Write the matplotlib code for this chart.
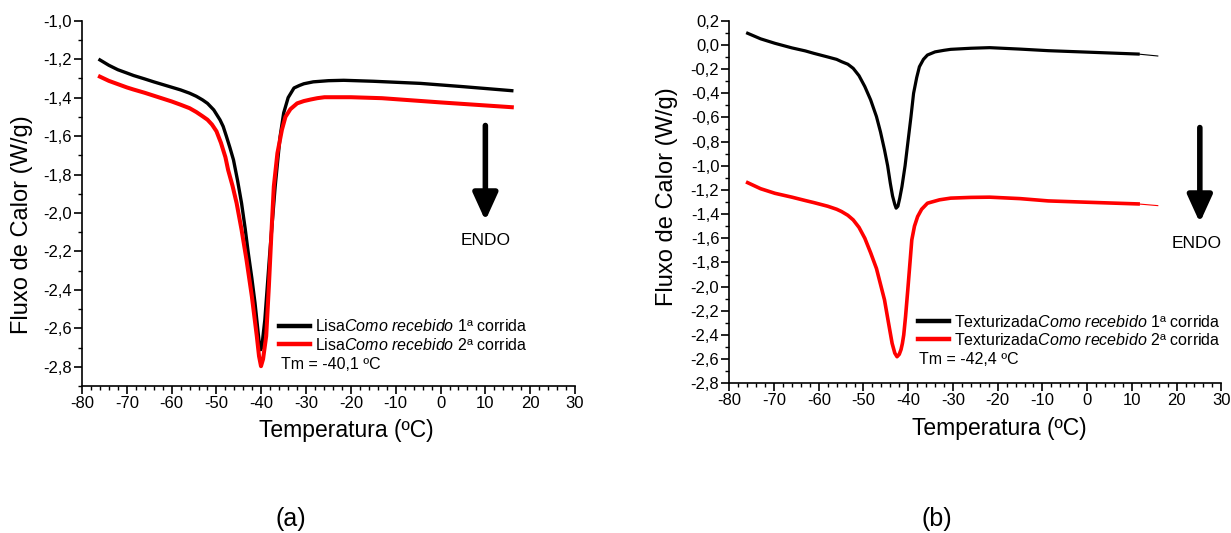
import matplotlib
matplotlib.use("Agg")
import matplotlib.pyplot as plt
from matplotlib.ticker import MultipleLocator, FuncFormatter

plt.rcParams['font.family'] = ['Liberation Sans', 'DejaVu Sans']
plt.rcParams['mathtext.fontset'] = 'custom'
plt.rcParams['mathtext.rm'] = 'Liberation Sans'
plt.rcParams['mathtext.it'] = 'Liberation Sans:italic'

# ---------------- data (a) Lisa ----------------
lisa_run1_T = [-76.0, -74.0, -72.0, -70.0, -68.5, -66.0, -64.0, -62.0, -60.0, -58.0, -56.0,
               -54.5, -53.1, -52.0, -50.6, -49.2, -48.5, -47.8, -47.0, -46.2, -45.3, -44.4,
               -43.6, -42.9, -42.1, -41.4, -40.8, -40.4, -40.1, -39.8, -39.2, -38.1, -36.9,
               -36.3, -35.8, -35.0, -34.0, -32.7, -31.5, -30.5, -28.4, -25.0, -21.6, -15.0,
               -4.5, 5.0, 15.9]
lisa_run1_Q = [-1.204, -1.232, -1.255, -1.272, -1.285, -1.303, -1.318, -1.332, -1.346, -1.36, -1.377,
               -1.393, -1.412, -1.43, -1.464, -1.516, -1.55, -1.60, -1.66, -1.724, -1.83, -1.949,
               -2.08, -2.208, -2.34, -2.468, -2.60, -2.69, -2.711, -2.68, -2.555, -2.208, -1.862,
               -1.72, -1.603, -1.48, -1.40, -1.35, -1.337, -1.328, -1.318, -1.312, -1.31, -1.315,
               -1.326, -1.343, -1.364]

lisa_run2_T = [-76.0, -74.0, -72.0, -70.0, -68.5, -66.0, -64.0, -62.0, -60.0, -58.0, -56.0,
               -54.5, -53.1, -52.0, -51.0, -50.0, -49.0, -48.0, -47.4, -46.4, -45.5, -44.4,
               -43.3, -42.1, -41.0, -40.5, -40.06, -39.6, -38.9, -38.3, -37.7, -37.2, -36.4,
               -35.4, -34.6, -33.5, -32.0, -30.5, -29.0, -27.5, -25.9, -20.0, -13.1, 0.0, 15.9]
lisa_run2_Q = [-1.291, -1.313, -1.33, -1.347, -1.358, -1.375, -1.39, -1.405, -1.42, -1.437, -1.455,
               -1.475, -1.497, -1.515, -1.54, -1.575, -1.635, -1.71, -1.776, -1.86, -1.949, -2.087,
               -2.243, -2.434, -2.64, -2.745, -2.797, -2.76, -2.64, -2.38, -2.087, -1.862, -1.689,
               -1.568, -1.50, -1.46, -1.43, -1.418, -1.41, -1.403, -1.398, -1.398, -1.403, -1.425,
               -1.45]

# ---------------- data (b) Texturizada ----------------
text_run1_T = [-75.9, -73.0, -69.8, -66.0, -63.0, -61.1, -58.0, -56.0, -54.9, -53.5, -52.3,
               -51.0, -49.7, -48.4, -47.1, -46.2, -45.3, -44.6, -44.0, -43.5, -43.0, -42.7,
               -42.3, -41.9, -41.4, -40.7, -40.1, -39.4, -38.8, -38.1, -37.5, -36.6, -35.7,
               -34.0, -32.0, -30.5, -26.0, -21.8, -15.0, -8.7, 0.0, 11.4, 15.8]
text_run1_Q = [0.096, 0.05, 0.013, -0.025, -0.05, -0.07, -0.10, -0.12, -0.139, -0.16, -0.194,
               -0.255, -0.345, -0.455, -0.593, -0.72, -0.869, -1.0, -1.145, -1.25, -1.32, -1.351,
               -1.335, -1.27, -1.173, -1.0, -0.815, -0.60, -0.401, -0.27, -0.181, -0.12, -0.084,
               -0.058, -0.045, -0.037, -0.028, -0.023, -0.035, -0.048, -0.06, -0.076, -0.092]

text_run2_T = [-75.9, -73.0, -69.8, -66.0, -63.0, -61.1, -58.0, -56.0, -54.9, -53.5, -52.3,
               -51.0, -49.7, -48.4, -47.1, -46.2, -45.3, -44.5, -43.6, -43.0, -42.5, -42.0,
               -41.6, -41.3, -41.0, -40.6, -40.1, -39.6, -39.2, -38.6, -37.9, -37.0, -35.7,
               -33.0, -30.5, -26.0, -21.8, -15.0, -8.7, 0.0, 11.4, 15.8]
text_run2_Q = [-1.14, -1.19, -1.228, -1.26, -1.288, -1.305, -1.335, -1.36, -1.379, -1.41, -1.448,
               -1.51, -1.60, -1.72, -1.85, -1.98, -2.11, -2.28, -2.469, -2.55, -2.58, -2.56,
               -2.52, -2.47, -2.40, -2.25, -2.03, -1.80, -1.614, -1.50, -1.421, -1.36, -1.31,
               -1.282, -1.268, -1.262, -1.26, -1.272, -1.291, -1.302, -1.316, -1.33]

lbl_a1 = r'Lisa$\it{Como\ recebido}$ 1ª corrida'
lbl_a2 = r'Lisa$\it{Como\ recebido}$ 2ª corrida'
lbl_b1 = r'Texturizada$\it{Como\ recebido}$ 1ª corrida'
lbl_b2 = r'Texturizada$\it{Como\ recebido}$ 2ª corrida'
tm_a = 'Tm = -40,1 ºC'
tm_b = 'Tm = -42,4 ºC'

W, H = 1231, 533
fig = plt.figure(figsize=(W / 100, H / 100), dpi=100)

ax1 = fig.add_axes([82 / W, 1 - 386 / H, 493 / W, (386 - 20.7) / H])
ax2 = fig.add_axes([729.3 / W, 1 - 383.3 / H, 492 / W, (383.3 - 20.7) / H])


def fmt_comma(v, p):
    if abs(v) < 1e-9:
        v = 0.0
    return f"{v:.1f}".replace('.', ',')


comma = FuncFormatter(fmt_comma)
intfmt = FuncFormatter(lambda v, p: f"{v:.0f}")


def style(ax, ylim, ymajor, xlabel_x):
    ax.set_xlim(-80, 30)
    ax.set_ylim(*ylim)
    for s in ('top', 'right'):
        ax.spines[s].set_visible(False)
    for s in ('left', 'bottom'):
        ax.spines[s].set_linewidth(1.2)
    ax.xaxis.set_major_locator(MultipleLocator(10))
    ax.xaxis.set_minor_locator(MultipleLocator(2))
    ax.yaxis.set_major_locator(MultipleLocator(ymajor))
    ax.yaxis.set_minor_locator(MultipleLocator(ymajor / 2))
    ax.xaxis.set_major_formatter(intfmt)
    ax.yaxis.set_major_formatter(comma)
    ax.tick_params(which='major', direction='out', length=6, width=1.2, labelsize=12, pad=1.2)
    ax.tick_params(which='minor', direction='out', length=3, width=1.0)
    ax.set_xlabel('Temperatura (ºC)', fontsize=16.5, labelpad=6)
    ax.xaxis.label.set_x(xlabel_x)


arrow_props = dict(arrowstyle='-|>,head_width=0.5,head_length=1.1', lw=4,
                   color='black', shrinkA=0, shrinkB=0, mutation_scale=15)

# ---- (a)
style(ax1, (-2.9, -1.0), 0.2, 0.5355)
ax1.plot(lisa_run1_T, lisa_run1_Q, color='black', lw=2.4, label=lbl_a1)
ax1.plot(lisa_run2_T, lisa_run2_Q, color='#ff0000', lw=2.9, label=lbl_a2)
leg1 = ax1.legend(loc='upper left', bbox_to_anchor=(0.400, 0.185), frameon=False,
                  fontsize=11.5, handlelength=1.9, handletextpad=0.35, labelspacing=0.15,
                  borderpad=0, borderaxespad=0)
for lh in leg1.get_lines():
    lh.set_linewidth(3.2)
ax1.text(0.403, 0.058, tm_a, transform=ax1.transAxes, fontsize=11.5, va='center', ha='left')
ax1.annotate('', xy=(10, -2.04), xytext=(10, -1.545), arrowprops=arrow_props)
ax1.text(10, -2.143, 'ENDO', fontsize=12.5, ha='center', va='center')

# ---- (b)
style(ax2, (-2.8, 0.2), 0.2, 0.548)
ax2.plot(text_run1_T[:-1], text_run1_Q[:-1], color='black', lw=2.3, label=lbl_b1)
ax2.plot(text_run1_T[-2:], text_run1_Q[-2:], color='black', lw=0.8)
ax2.plot(text_run2_T[:-1], text_run2_Q[:-1], color='#ff0000', lw=2.6, label=lbl_b2)
ax2.plot(text_run2_T[-2:], text_run2_Q[-2:], color='#ff0000', lw=0.8)
handles, labels = ax2.get_legend_handles_labels()
leg2 = ax2.legend(handles, labels, loc='upper left', bbox_to_anchor=(0.383, 0.192), frameon=False,
                  fontsize=11.5, handlelength=1.95, handletextpad=0.35, labelspacing=0.12,
                  borderpad=0, borderaxespad=0)
for lh in leg2.get_lines():
    lh.set_linewidth(3.2)
ax2.text(0.385, 0.0667, tm_b, transform=ax2.transAxes, fontsize=11.5, va='center', ha='left')
ax2.annotate('', xy=(25.2, -1.471), xytext=(25.2, -0.684), arrowprops=arrow_props,
             annotation_clip=False)
ax2.text(24.5, -1.64, 'ENDO', fontsize=12.5, ha='center', va='center', clip_on=False)

# y labels and panel letters
fig.text(22 / W, 1 - 225 / H, 'Fluxo de Calor (W/g)', rotation=90, fontsize=17,
         ha='center', va='center')
fig.text(667 / W, 1 - 196.5 / H, 'Fluxo de Calor (W/g)', rotation=90, fontsize=17,
         ha='center', va='center')
fig.text(291 / W, 1 - 519 / H, '(a)', fontsize=18, ha='center', va='center')
fig.text(937 / W, 1 - 519 / H, '(b)', fontsize=18, ha='center', va='center')

fig.savefig('out.png', dpi=100)
